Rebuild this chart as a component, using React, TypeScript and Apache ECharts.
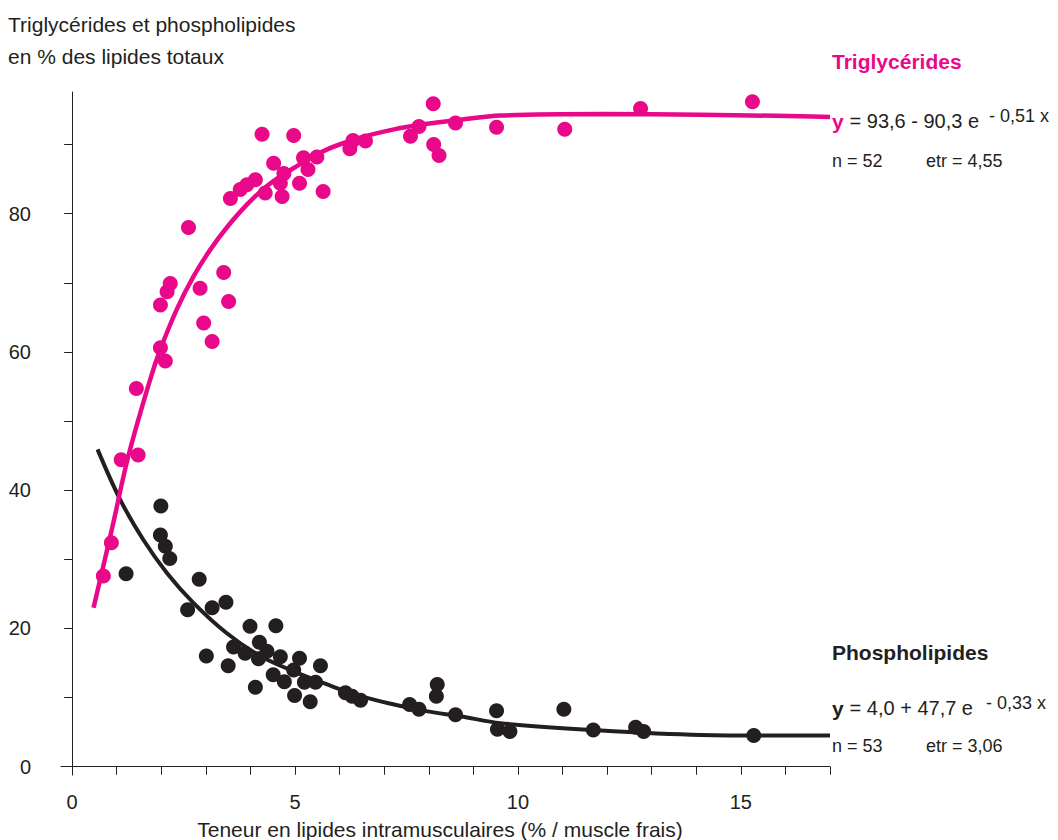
import React, { useEffect, useRef } from "react";
import * as echarts from "echarts";

const PINK = "#E9088A";
const DARK = "#231F20";
const FONT = "'Liberation Sans', Arial, Helvetica, sans-serif";

// Triglycérides: measured points
const trigX = [0.70, 0.88, 1.10, 1.48, 1.44, 1.98, 2.09, 1.98, 2.13, 2.20, 2.61, 2.87, 2.95, 3.14, 3.40, 3.51, 3.55, 3.77, 3.92, 4.11, 4.26, 4.33, 4.52, 4.71, 4.67, 4.75, 4.97, 5.10, 5.19, 5.29, 5.49, 5.63, 6.23, 6.30, 6.58, 7.59, 7.78, 8.10, 8.11, 8.23, 8.60, 9.52, 11.05, 12.75, 15.26];
const trigY = [27.6, 32.4, 44.4, 45.1, 54.7, 60.6, 58.7, 66.8, 68.7, 69.9, 78.0, 69.2, 64.2, 61.5, 71.5, 67.3, 82.2, 83.5, 84.2, 84.9, 91.5, 83.0, 87.3, 82.5, 84.4, 85.8, 91.3, 84.4, 88.1, 86.4, 88.2, 83.2, 89.4, 90.6, 90.5, 91.2, 92.6, 95.9, 90.0, 88.4, 93.1, 92.5, 92.2, 95.2, 96.2];

// Phospholipides: measured points
const phosX = [1.21, 1.99, 1.98, 2.09, 2.19, 2.85, 2.59, 3.14, 3.45, 3.01, 3.50, 3.62, 3.88, 3.99, 4.20, 4.37, 4.18, 4.11, 4.57, 4.67, 4.51, 4.76, 4.97, 5.10, 4.99, 5.21, 5.46, 5.34, 5.57, 6.13, 6.28, 6.47, 7.57, 7.78, 8.19, 8.17, 8.60, 11.03, 9.52, 9.54, 9.82, 11.69, 12.64, 12.82, 15.29];
const phosY = [27.9, 37.7, 33.5, 31.9, 30.1, 27.1, 22.7, 23.0, 23.8, 16.0, 14.6, 17.3, 16.4, 20.3, 18.0, 16.7, 15.6, 11.5, 20.4, 15.9, 13.3, 12.3, 14.0, 15.7, 10.3, 12.2, 12.2, 9.4, 14.6, 10.7, 10.2, 9.6, 9.0, 8.3, 11.9, 10.2, 7.5, 8.3, 8.1, 5.4, 5.1, 5.3, 5.7, 5.1, 4.5];

// Fitted curves
const trigCurveX = [0.48, 0.9, 1.26, 1.75, 1.98, 2.35, 2.72, 3.10, 3.47, 3.92, 4.37, 4.97, 5.72, 6.47, 7.22, 7.96, 8.71, 9.61, 11.86, 14.1, 16.35, 17.0];
const trigCurveY = [23.0, 34.6, 44.9, 56.0, 60.4, 66.2, 70.9, 74.8, 78.0, 81.3, 84.0, 86.6, 89.3, 91.0, 92.2, 93.0, 93.6, 94.2, 94.4, 94.3, 94.1, 94.0];
const phosCurveX = [0.57, 1.08, 1.60, 2.13, 2.72, 3.47, 4.22, 4.97, 5.72, 6.47, 7.22, 7.97, 8.71, 9.61, 11.71, 14.1, 16.35, 17.0];
const phosCurveY = [45.9, 38.6, 32.8, 28.0, 23.7, 19.3, 16.0, 13.8, 11.9, 10.2, 9.0, 8.0, 7.3, 6.3, 5.3, 4.6, 4.5, 4.5];

// Ticks and labels
const xTicks = [0, 1, 2, 3, 4, 5, 6, 7, 8, 9, 10, 11, 12, 13, 14, 15, 16, 17];
const xTickLabels = [0, 5, 10, 15];
const yTicks = [0, 10, 20, 30, 40, 50, 60, 70, 80, 90];
const yTickLabels = [0, 20, 40, 60, 80];

const zip = (a: number[], b: number[]) => a.map((v, i) => [v, b[i]]);

export default function App() {
  const ref = useRef<HTMLDivElement>(null);
  useEffect(() => {
    if (!ref.current) return;
    const chart = echarts.init(ref.current, undefined, { renderer: "svg" });
    const txt = (x: number, y: number, text: string, size: number, fill: string, weight = "normal", align = "left") => ({
      type: "text",
      x,
      y,
      silent: true,
      style: {
        text,
        fill,
        font: `${weight} ${size}px ${FONT}`,
        textAlign: align,
        textVerticalAlign: "middle",
        align,
        verticalAlign: "middle",
      },
    });
    chart.setOption({
      animation: false,
      grid: { left: 61, right: 228, top: 92, bottom: 65, containLabel: false, outerBoundsMode: "none" },
      xAxis: {
        type: "value",
        min: -0.25,
        max: 17,
        axisLine: { onZero: true, lineStyle: { color: DARK, width: 1 } },
        axisTick: { show: true, customValues: xTicks, length: 8, lineStyle: { color: DARK } },
        axisLabel: { customValues: xTickLabels, fontSize: 20, color: DARK, fontFamily: FONT, margin: 17 },
        splitLine: { show: false },
      },
      yAxis: {
        type: "value",
        min: -1.2,
        max: 97.6,
        axisLine: { show: true, onZero: true, lineStyle: { color: DARK, width: 1 } },
        axisTick: { show: true, customValues: yTicks, length: 8, lineStyle: { color: DARK } },
        axisLabel: { customValues: yTickLabels, fontSize: 20, color: DARK, fontFamily: FONT, margin: 30 },
        splitLine: { show: false },
      },
      series: [
        {
          type: "line",
          data: zip(phosCurveX, phosCurveY),
          smooth: 0.35,
          showSymbol: false,
          symbol: "none",
          lineStyle: { color: DARK, width: 4 },
          z: 2,
        },
        {
          type: "scatter",
          data: zip(phosX, phosY),
          symbolSize: 15,
          itemStyle: { color: DARK, opacity: 1 },
          z: 3,
        },
        {
          type: "line",
          data: zip(trigCurveX, trigCurveY),
          smooth: 0.35,
          showSymbol: false,
          symbol: "none",
          lineStyle: { color: PINK, width: 4.5 },
          z: 4,
        },
        {
          type: "scatter",
          data: zip(trigX, trigY),
          symbolSize: 15,
          itemStyle: { color: PINK, opacity: 1 },
          z: 5,
        },
      ],
      graphic: [
        txt(8, 24, "Triglycérides et phospholipides", 21, DARK),
        txt(8, 56, "en % des lipides totaux", 21, DARK),
        txt(440, 829, "Teneur en lipides intramusculaires (% / muscle frais)", 21, DARK, "normal", "center"),
        txt(832, 61, "Triglycérides", 21, PINK, "bold"),
        txt(832, 121, "y", 21, PINK, "bold"),
        txt(844, 121, " = 93,6 - 90,3 e", 20, DARK),
        txt(989, 116, "- 0,51 x", 18, DARK),
        txt(832, 161, "n = 52", 18, DARK),
        txt(926, 161, "etr = 4,55", 18, DARK),
        txt(832, 652, "Phospholipides", 21, DARK, "bold"),
        txt(832, 708, "y", 21, DARK, "bold"),
        txt(844, 708, " = 4,0 + 47,7 e", 20, DARK),
        txt(986, 703, "- 0,33 x", 18, DARK),
        txt(832, 746, "n = 53", 18, DARK),
        txt(926, 746, "etr = 3,06", 18, DARK),
      ],
    });
    return () => chart.dispose();
  }, []);
  return <div ref={ref} style={{ position: "absolute", left: 0, top: 0, width: 1058, height: 840 }} />;
}
